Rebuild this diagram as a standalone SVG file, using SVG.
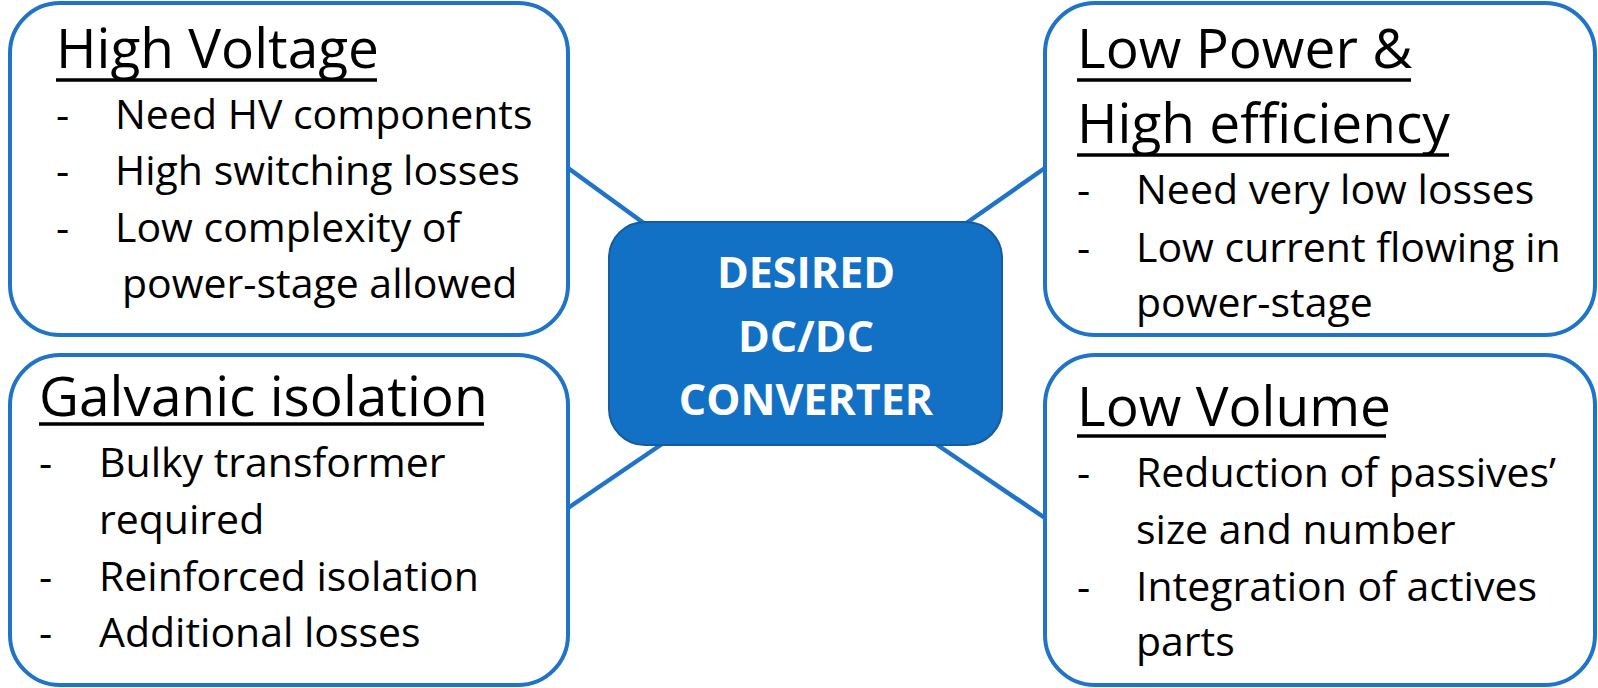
<svg xmlns="http://www.w3.org/2000/svg" width="1598" height="688" viewBox="0 0 1598 688">
<style>
.box{fill:#fff;stroke:#1f74c8;stroke-width:4}
.conn{stroke:#1f74c8;stroke-width:4.5;fill:none}
.title{font-family:"Open Sans","Liberation Sans",sans-serif;font-size:55px;fill:#000}
.item{font-family:"Open Sans","Liberation Sans",sans-serif;font-size:41px;fill:#000}
.ul{stroke:#000;stroke-width:3.5}
.center{fill:#1270c5;stroke:#165b9e;stroke-width:2}
.ctext{font-family:"Open Sans","Liberation Sans",sans-serif;font-weight:700;font-size:43px;fill:#fff;text-anchor:middle}
</style>
<rect width="1598" height="688" fill="#fff"/>
<g id="connectors">
<line class="conn" x1="568" y1="168" x2="645" y2="224"/>
<line class="conn" x1="965" y1="224" x2="1045" y2="168"/>
<line class="conn" x1="662" y1="444" x2="568" y2="508"/>
<line class="conn" x1="936" y1="444" x2="1045" y2="518"/>
</g>
<g id="high-voltage">
<rect class="box" x="10" y="3" width="558" height="332" rx="50"/>
<text class="title" x="56" y="68">High Voltage</text>
<line class="ul" x1="56" y1="80" x2="377" y2="80"/>
<text class="item" x="56" y="129">-</text><text class="item" x="115" y="129">Need HV components</text>
<text class="item" x="56" y="185">-</text><text class="item" x="115" y="185">High switching losses</text>
<text class="item" x="56" y="242">-</text><text class="item" x="115" y="242">Low complexity of</text>
<text class="item" x="122" y="298">power-stage allowed</text>
</g>
<g id="low-power">
<rect class="box" x="1045" y="3" width="550" height="332" rx="50"/>
<text class="title" x="1077" y="68">Low Power &amp;</text>
<line class="ul" x1="1077" y1="80" x2="1411" y2="80"/>
<text class="title" x="1077" y="143">High efficiency</text>
<line class="ul" x1="1077" y1="155" x2="1449" y2="155"/>
<text class="item" x="1077" y="204">-</text><text class="item" x="1136" y="204">Need very low losses</text>
<text class="item" x="1077" y="262">-</text><text class="item" x="1136" y="262">Low current flowing in</text>
<text class="item" x="1136" y="317">power-stage</text>
</g>
<g id="galvanic-isolation">
<rect class="box" x="10" y="355" width="558" height="330" rx="50"/>
<text class="title" x="39" y="416">Galvanic isolation</text>
<line class="ul" x1="39" y1="424" x2="484" y2="424"/>
<text class="item" x="39" y="477">-</text><text class="item" x="99" y="477">Bulky transformer</text>
<text class="item" x="99" y="534">required</text>
<text class="item" x="39" y="591">-</text><text class="item" x="99" y="591">Reinforced isolation</text>
<text class="item" x="39" y="647">-</text><text class="item" x="99" y="647">Additional losses</text>
</g>
<g id="low-volume">
<rect class="box" x="1045" y="355" width="550" height="330" rx="50"/>
<text class="title" x="1077" y="426">Low Volume</text>
<line class="ul" x1="1077" y1="436" x2="1386" y2="436"/>
<text class="item" x="1077" y="487">-</text><text class="item" x="1136" y="487">Reduction of passives’</text>
<text class="item" x="1136" y="544">size and number</text>
<text class="item" x="1077" y="601">-</text><text class="item" x="1136" y="601">Integration of actives</text>
<text class="item" x="1136" y="656">parts</text>
</g>
<g id="desired-converter">
<rect class="center" x="609" y="222" width="393" height="223" rx="36"/>
<text class="ctext" x="806" y="288">DESIRED</text>
<text class="ctext" x="806" y="352">DC/DC</text>
<text class="ctext" x="806" y="415">CONVERTER</text>
</g>
</svg>
